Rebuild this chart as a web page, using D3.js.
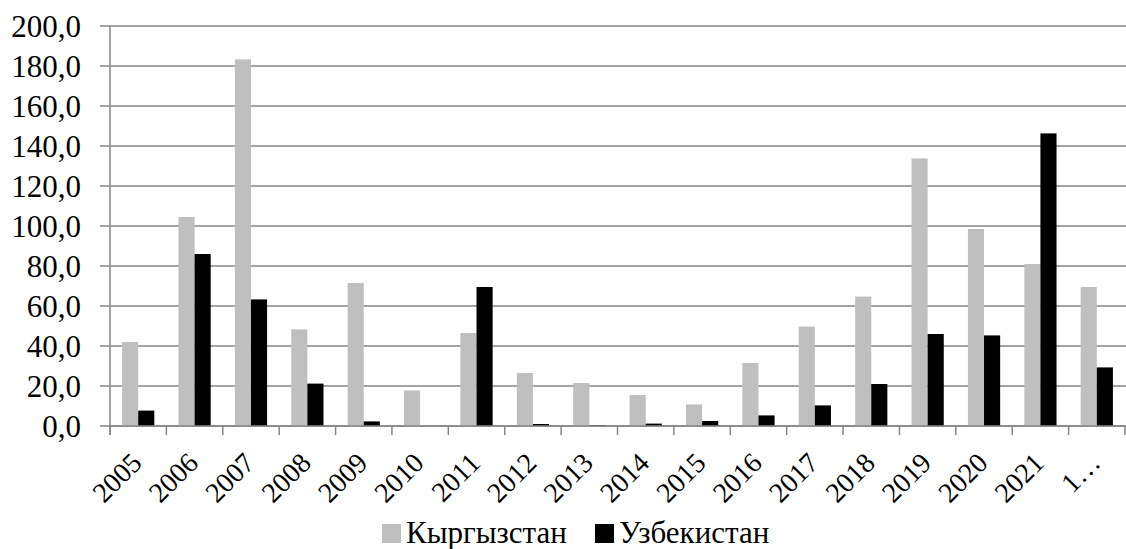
<!DOCTYPE html>
<html><head><meta charset="utf-8">
<script src="https://cdn.jsdelivr.net/npm/d3@7"></script>
<style>body{margin:0;background:#fff}svg{display:block}
text{font-family:"Liberation Serif","Tinos","Times New Roman","DejaVu Serif",serif;}</style>
</head><body>
<svg id="c" width="1126" height="549"></svg>
<script>
const categories = ["2005","2006","2007","2008","2009","2010","2011","2012","2013","2014","2015","2016","2017","2018","2019","2020","2021","1…"];
const kyrgyzstan = [42.0,104.5,183.3,48.3,71.5,17.8,46.5,26.5,21.5,15.5,10.8,31.5,49.7,64.7,133.8,98.5,81.0,69.5];
const uzbekistan = [7.7,86.0,63.3,21.2,2.3,0.0,69.5,1.0,0.3,1.2,2.5,5.3,10.3,21.0,46.0,45.3,146.3,29.3];
const seriesNames = ["Кыргызстан","Узбекистан"];
const seriesColors = ["#bfbfbf","#000000"];
const yTicks = [0,20,40,60,80,100,120,140,160,180,200];

const svg = d3.select("#c");
const L = 110, R = 1125, T = 26, B = 426;

const x = d3.scaleBand().domain(categories).range([L, R]).padding(0);
const x1 = d3.scaleBand().domain(seriesNames).range([0, x.bandwidth()]).paddingInner(0).paddingOuter(0.75);
const y = d3.scaleLinear().domain([0, 200]).range([B, T]);

const grid = "#868686";
svg.append("g").selectAll("line").data(yTicks).join("line")
  .attr("x1", L - 10).attr("x2", 1126)
  .attr("y1", d => y(d)).attr("y2", d => y(d))
  .attr("stroke", grid).attr("stroke-width", 1.5);
svg.append("line").attr("x1", L).attr("x2", L).attr("y1", T).attr("y2", B + 9)
  .attr("stroke", grid).attr("stroke-width", 1.5);
svg.append("g").selectAll("text").data(yTicks).join("text")
  .attr("x", 81).attr("y", d => y(d)).attr("dy", "0.35em")
  .attr("text-anchor", "end").attr("font-size", 31)
  .attr("fill", "#000").text(d => d3.format(".1f")(d).replace(".", ","));

const data = categories.map((c, i) => ({c, vals: [kyrgyzstan[i], uzbekistan[i]]}));
const g = svg.append("g");
data.forEach(d => {
  d.vals.forEach((v, j) => {
    g.append("rect")
      .attr("x", x(d.c) + x1(seriesNames[j]))
      .attr("width", x1.bandwidth())
      .attr("y", y(v)).attr("height", B - y(v))
      .attr("fill", seriesColors[j]);
  });
});

const bounds = categories.map(c => x(c)).concat([R]);
svg.append("g").selectAll("line").data(bounds).join("line")
  .attr("x1", d => d).attr("x2", d => d).attr("y1", B).attr("y2", B + 9)
  .attr("stroke", grid).attr("stroke-width", 1.5);
svg.append("line").attr("x1", L).attr("x2", R).attr("y1", B).attr("y2", B)
  .attr("stroke", grid).attr("stroke-width", 1.5);

svg.append("g").selectAll("text").data(categories).join("text")
  .attr("text-anchor", "end").attr("fill", "#000").attr("font-size", 28)
  .attr("transform", d => "translate(" + (x(d) + x.bandwidth()/2 + 5.3) + "," + (B + 38.5) + ") rotate(-45)")
  .text(d => d);

// legend
const leg = svg.append("g");
const legX = [382, 595];
seriesNames.forEach((n, j) => {
  leg.append("rect").attr("x", legX[j]).attr("y", 524).attr("width", 19).attr("height", 19).attr("fill", seriesColors[j]);
  leg.append("text").attr("x", legX[j] + 24).attr("y", 543)
    .attr("font-size", 31).attr("fill", "#000").text(n);
});
</script>
</body></html>
